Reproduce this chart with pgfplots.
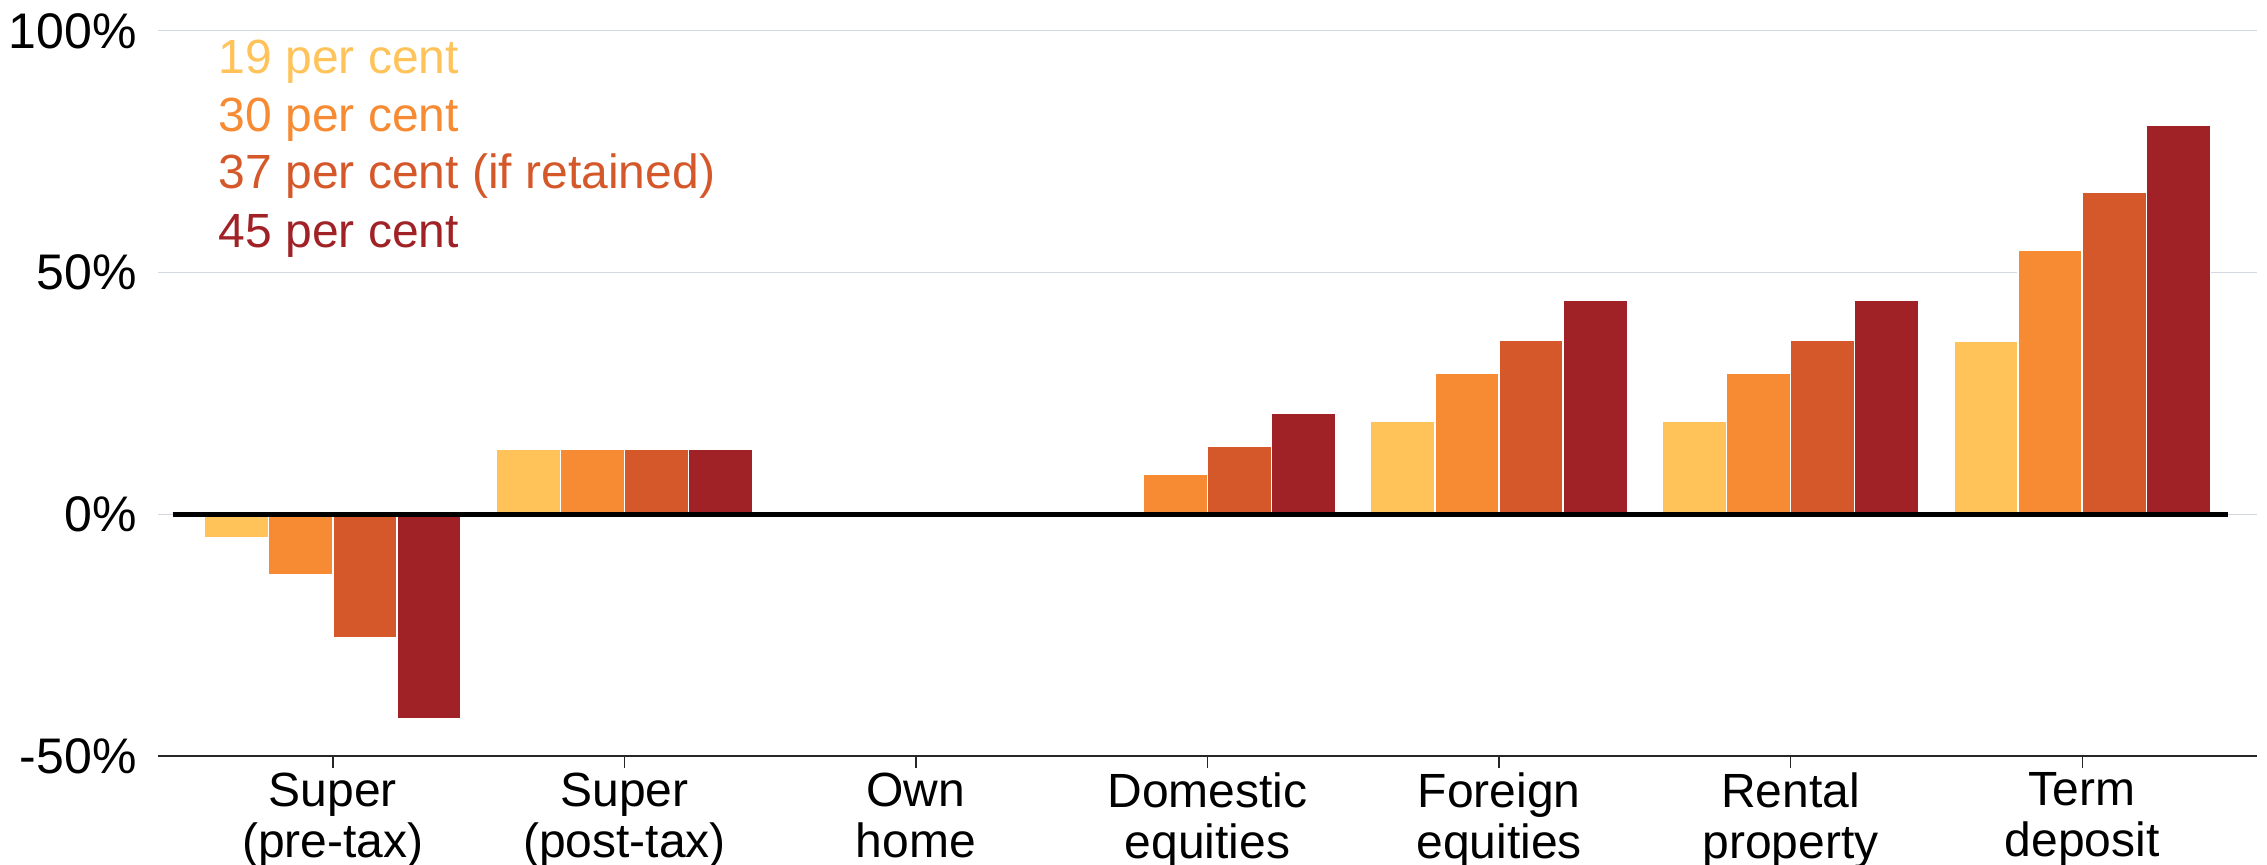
\documentclass[border=0pt]{standalone}
\usepackage{fontspec}
\setmainfont{Liberation Sans}
\usepackage{pgfplots}
\pgfplotsset{compat=1.18}
\usepackage{pgfplotstable}

\definecolor{gyellow}{HTML}{FFC35A}
\definecolor{gorange}{HTML}{F68B33}
\definecolor{gdorange}{HTML}{D4582A}
\definecolor{gred}{HTML}{A02226}
\definecolor{gridgrey}{HTML}{D4D8E0}

% Effective tax rate on savings, by asset class and marginal tax rate
\pgfplotstableread{
x  r19   r30   r37   r45
0  -4.7  -12.5 -25.5 -42.2
1  13.5  13.5  13.5  13.5
2  0     0     0     0
3  0     8.3   14.1  20.9
4  19.3  29.1  36.0  44.2
5  19.3  29.1  36.0  44.2
6  35.8  54.6  66.7  80.4
}\rates

\newcommand{\lblfont}{\fontsize{12}{12.8}\selectfont}

\begin{document}
\begin{tikzpicture}
\begin{axis}[
  scale only axis,
  width=524.75pt, height=181.4pt,
  xmin=-0.6, xmax=6.6, ymin=-50, ymax=100,
  axis x line*=bottom, axis y line*=left,
  x axis line style={-, draw=black!85, line width=0.5pt},
  y axis line style={draw=none},
  tick align=outside,
  major tick length=3pt,
  xtick={0,1,2,3,4,5,6},
  xticklabels={Super\\(pre-tax),Super\\(post-tax),Own\\home,Domestic\\equities,Foreign\\equities,Rental\\property,Term\\deposit},
  xtick style={draw=black!85, line width=0.3pt},
  xticklabel style={align=center, font=\lblfont, yshift=2.5pt},
  ytick={-50,0,50,100},
  yticklabels={-50\%,0\%,50\%,100\%},
  ytick style={draw=none},
  yticklabel style={font=\fontsize{12.5}{13}\selectfont, xshift=1.2pt},
  ymajorgrids,
  grid style={gridgrey, line width=0.35pt},
  clip=false,
  bar width=0.22,
]
\addplot[ybar, bar shift=-0.33, fill=gyellow, draw=white, line width=0.35pt] table[x=x, y=r19] {\rates};
\addplot[ybar, bar shift=-0.11, fill=gorange, draw=white, line width=0.35pt] table[x=x, y=r30] {\rates};
\addplot[ybar, bar shift=0.11, fill=gdorange, draw=white, line width=0.35pt] table[x=x, y=r37] {\rates};
\addplot[ybar, bar shift=0.33, fill=gred, draw=white, line width=0.35pt] table[x=x, y=r45] {\rates};

% zero reference line drawn over the bars
\addplot[black, line width=1.4pt, forget plot] coordinates {(-0.55,0) (6.5,0)};

% series labels
\node[anchor=base west, inner sep=0pt, text=gyellow, font=\lblfont] at (axis cs:-0.394,91.1) {19 per cent};
\node[anchor=base west, inner sep=0pt, text=gorange, font=\lblfont] at (axis cs:-0.394,79.1) {30 per cent};
\node[anchor=base west, inner sep=0pt, text=gdorange, font=\lblfont] at (axis cs:-0.394,67.3) {37 per cent (if retained)};
\node[anchor=base west, inner sep=0pt, text=gred, font=\lblfont] at (axis cs:-0.394,55.2) {45 per cent};

\coordinate (SW) at (rel axis cs:0,0);
\coordinate (NE) at (rel axis cs:1,1);
\end{axis}
\pgfresetboundingbox
\path[use as bounding box] ([shift={(-39.5pt,-26.9pt)}]SW) rectangle ([shift={(2.5pt,7.7pt)}]NE);
\end{tikzpicture}
\end{document}
